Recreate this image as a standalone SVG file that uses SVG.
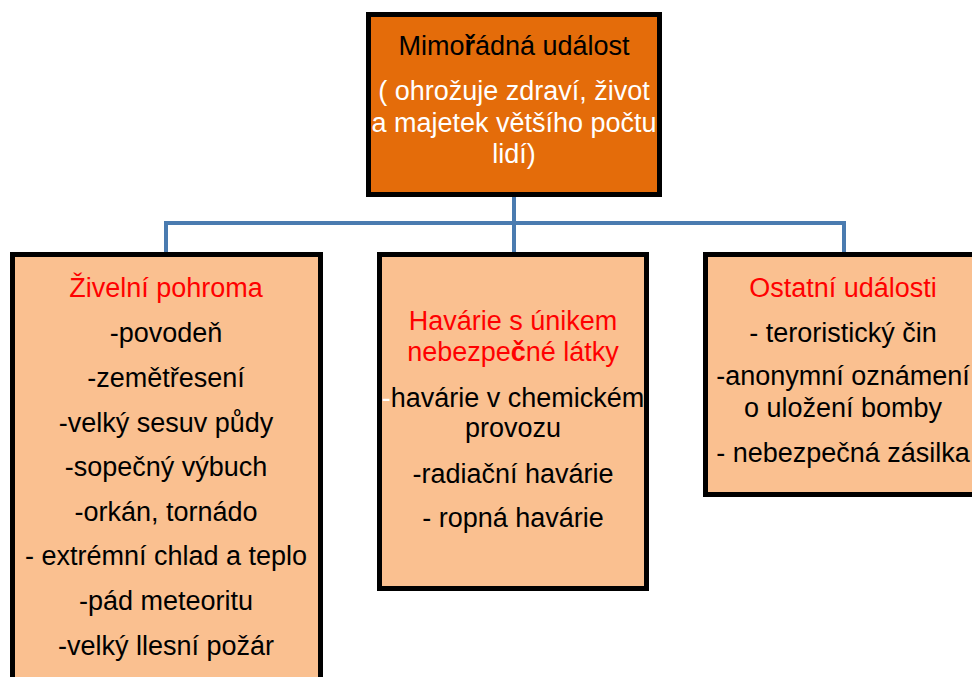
<svg xmlns="http://www.w3.org/2000/svg" width="972" height="677" viewBox="0 0 972 677">
<style>
.box{stroke:#000;stroke-width:5}
.top{fill:#E46C0A}
.sub{fill:#FAC090}
.t{font-family:"Liberation Sans",Arial,sans-serif;font-size:27px;text-anchor:middle;fill:#000}
.w{fill:#fff}
.r{fill:#FF0000}
.con{stroke:#4A7BB0;stroke-width:4;fill:none}
</style>
<rect width="972" height="677" fill="#fff"/>
<g id="connectors">
<path class="con" d="M514 197V223M166 252V223H844V252M514 223V252"/>
</g>
<g id="top">
<rect class="box top" x="368.5" y="14.5" width="291" height="180"/>
<text class="t" x="514" y="55">Mimo<tspan font-weight="bold">ř</tspan>ádná událost</text>
<text class="t w" x="514" y="100">( ohrožuje zdraví, život</text>
<text class="t w" x="514" y="132">a majetek většího počtu</text>
<text class="t w" x="514" y="163">lidí)</text>
</g>
<g id="zivelni">
<rect class="box sub" x="12.5" y="254.5" width="308" height="500"/>
<text class="t r" x="166" y="297">Živelní pohroma</text>
<text class="t" x="166" y="342">-povodeň</text>
<text class="t" x="166" y="387">-zemětřesení</text>
<text class="t" x="166" y="432">-velký sesuv půdy</text>
<text class="t" x="166" y="476">-sopečný výbuch</text>
<text class="t" x="166" y="521">-orkán, tornádo</text>
<text class="t" x="166" y="565">- extrémní chlad a teplo</text>
<text class="t" x="166" y="610">-pád meteoritu</text>
<text class="t" x="166" y="655">-velký llesní požár</text>
</g>
<g id="havarie">
<rect class="box sub" x="379.5" y="254.5" width="267" height="334"/>
<text class="t r" x="513" y="330">Havárie s únikem</text>
<text class="t r" x="513" y="361">nebezpe<tspan font-weight="bold">č</tspan>né látky</text>
<text class="t" x="513" y="407"><tspan class="w">-</tspan>havárie v chemickém</text>
<text class="t" x="513" y="437">provozu</text>
<text class="t" x="513" y="483">-radiační havárie</text>
<text class="t" x="513" y="527">- ropná havárie</text>
</g>
<g id="ostatni">
<rect class="box sub" x="705.5" y="254.5" width="300" height="240"/>
<text class="t r" x="843" y="297">Ostatní události</text>
<text class="t" x="843" y="342">- teroristický čin</text>
<text class="t" x="843" y="385">-anonymní oznámení</text>
<text class="t" x="843" y="417">o uložení bomby</text>
<text class="t" x="843" y="462">- nebezpečná zásilka</text>
</g>
</svg>
